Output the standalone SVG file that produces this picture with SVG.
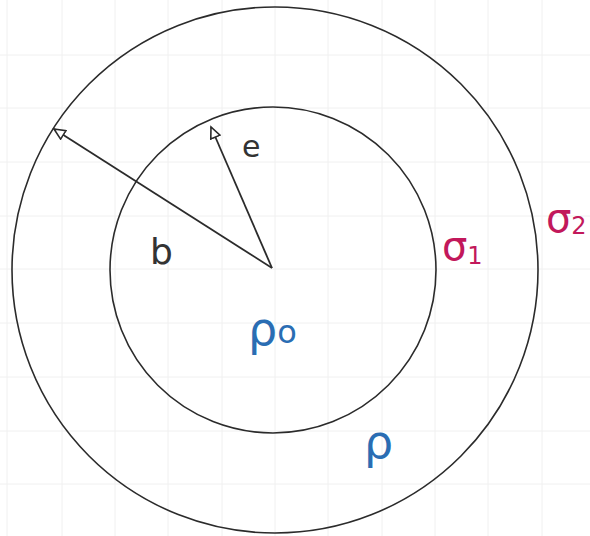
<svg xmlns="http://www.w3.org/2000/svg" width="590" height="536" viewBox="0 0 590 536">
<style>
.grid line{stroke:#f0f0f0;stroke-width:1}
.ring{fill:none;stroke:#2b2b2b;stroke-width:1.6}
.arrow{stroke:#2b2b2b;stroke-width:1.8;fill:none}
.lbl{font-family:"DejaVu Sans",sans-serif;fill:#333}
.sig{font-family:"DejaVu Sans",sans-serif;fill:#c2185b}
.rho{font-family:"DejaVu Sans",sans-serif;fill:#2a6db3}
</style>
<defs>
<marker id="ah" markerWidth="14" markerHeight="12" refX="12" refY="6" orient="auto" markerUnits="userSpaceOnUse">
<path d="M1,1 L12,6 L1,11 Z" fill="#fff" stroke="#2b2b2b" stroke-width="1.6"/>
</marker>
</defs>
<rect width="590" height="536" fill="#fff"/>
<g class="grid">
<line x1="7" y1="0" x2="7" y2="536"/><line x1="62" y1="0" x2="62" y2="536"/><line x1="115" y1="0" x2="115" y2="536"/><line x1="168" y1="0" x2="168" y2="536"/><line x1="222" y1="0" x2="222" y2="536"/><line x1="275" y1="0" x2="275" y2="536"/><line x1="328" y1="0" x2="328" y2="536"/><line x1="382" y1="0" x2="382" y2="536"/><line x1="435" y1="0" x2="435" y2="536"/><line x1="488" y1="0" x2="488" y2="536"/><line x1="542" y1="0" x2="542" y2="536"/>
<line x1="0" y1="55" x2="590" y2="55"/><line x1="0" y1="108" x2="590" y2="108"/><line x1="0" y1="162" x2="590" y2="162"/><line x1="0" y1="216" x2="590" y2="216"/><line x1="0" y1="269" x2="590" y2="269"/><line x1="0" y1="323" x2="590" y2="323"/><line x1="0" y1="377" x2="590" y2="377"/><line x1="0" y1="431" x2="590" y2="431"/><line x1="0" y1="484" x2="590" y2="484"/>
</g>
<g id="outer-circle"><circle class="ring" cx="275" cy="270" r="263"/></g>
<g id="inner-circle"><circle class="ring" cx="273" cy="270" r="163"/></g>
<g id="connectors">
<line class="arrow" x1="272" y1="268" x2="54" y2="129" marker-end="url(#ah)"/>
<line class="arrow" x1="272" y1="268" x2="211" y2="127" marker-end="url(#ah)"/>
</g>
<g id="labels">
<text class="lbl" x="242" y="157" font-size="30">e</text>
<text class="lbl" x="150" y="264" font-size="36">b</text>
<text class="sig" x="442" y="260" font-size="40">σ<tspan font-size="24" dy="4">1</tspan></text>
<text class="sig" x="546" y="232" font-size="40">σ<tspan font-size="24" dy="2">2</tspan></text>
<text class="rho" x="248" y="345" font-size="46">ρ<tspan font-size="32" dy="-2">o</tspan></text>
<text class="rho" x="364" y="458" font-size="46">ρ</text>
</g>
</svg>
